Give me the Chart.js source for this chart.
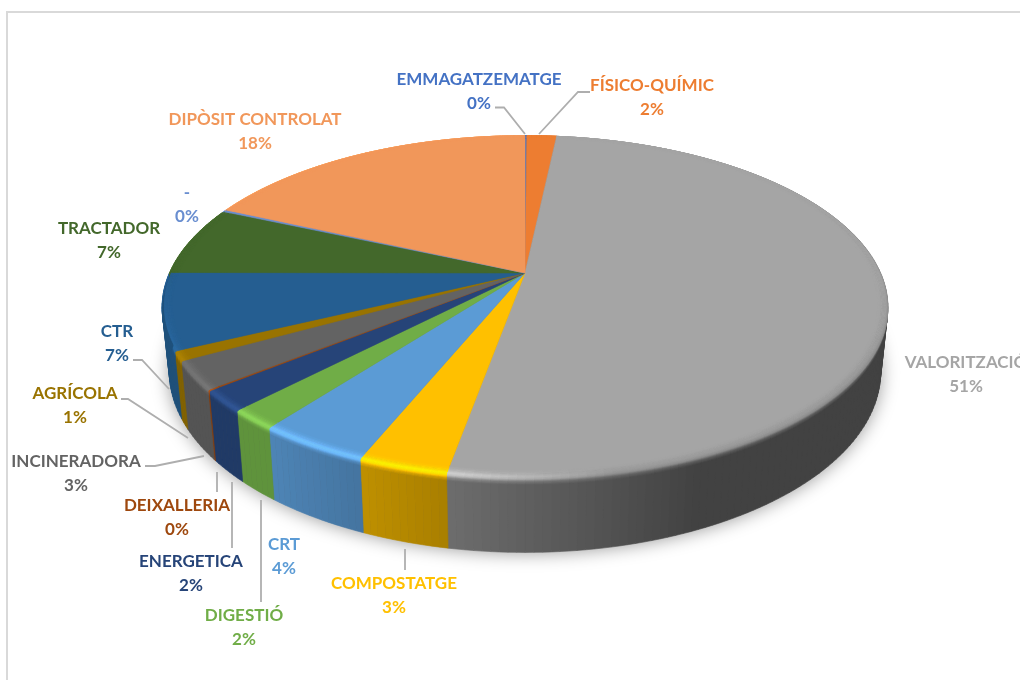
<!DOCTYPE html>
<html lang="ca">
<head>
    <meta charset="UTF-8">
    <title>Tractament de residus</title>
    <script src="https://cdn.jsdelivr.net/npm/chart.js"></script>
    <style>
        html, body {
            margin: 0;
            background: #fff;
            overflow: hidden;
        }
        .wrap {
            position: relative;
            width: 1020px;
            height: 680px;
            overflow: hidden;
        }
        .frame {
            position: absolute;
            left: 6px;
            top: 11px;
            width: 1100px;
            height: 800px;
            border: 2px solid #d9d9d9;
        }
        canvas {
            position: absolute;
            left: 0;
            top: 0;
        }
    </style>
</head>
<body>

<div class="wrap">
    <div class="frame"></div>
    <canvas id="myChart" width="1020" height="680"></canvas>
</div>

<script>
    const categories = ['EMMAGATZEMATGE', 'FÍSICO-QUÍMIC', 'VALORITZACIÓ', 'COMPOSTATGE', 'CRT', 'DIGESTIÓ', 'ENERGETICA',
        'DEIXALLERIA', 'INCINERADORA', 'AGRÍCOLA', 'CTR', 'TRACTADOR', '-', 'DIPÒSIT CONTROLAT'];
    const shares = [0.1, 1.6, 51.15, 3.35, 4.2, 1.85, 1.95, 0.1, 2.65, 0.9, 7.2, 6.55, 0.2, 18.2];
    const sliceColors = ['#4472C4', '#ED7D31', '#A5A5A5', '#FFC000', '#5B9BD5', '#70AD47', '#264478',
        '#9E480E', '#636363', '#997300', '#255E91', '#43682B', '#698ED0', '#F1975A'];

    // centre of each two line label, same order as categories
    const labelX = [479, 652, 966, 394, 284, 244, 191, 177, 76, 75, 117, 109, 187, 255];
    const labelY = [80, 86, 363, 584, 545, 616, 562, 506, 462, 394, 332, 229, 193, 120];

    const leaderLines = [
        [[495, 107.5], [504, 107.5], [525, 134]],
        [[590, 92], [578, 92], [539, 134]],
        [[133, 360], [142, 360], [169, 389]],
        [[121, 399], [128, 399], [188, 438]],
        [[145, 466], [155, 466], [204, 456]],
        [[217, 472], [217, 492]],
        [[232, 482], [232, 548]],
        [[261, 500], [261, 602]],
        [[405, 549], [405, 570]]
    ];

    // perspective of the disc, relative to the arc radius the library gives
    const PERSPECTIVE = 0.195;
    const STRETCH_X = 1.304;
    const STRETCH_Y = 0.604;
    const DEPTH = 0.232;
    const FAR_SCALE = 0.98;

    function project(arc, angle, r, z) {
        const X = r * Math.cos(angle);
        const Y = r * Math.sin(angle);
        const w = 1 - PERSPECTIVE * Y;
        const s = 1 - (1 - FAR_SCALE) * z;
        const R = arc.outerRadius;
        return [
            arc.x + R * STRETCH_X * s * X / w,
            arc.y + (R * STRETCH_Y * s * Y + R * DEPTH * z) / w
        ];
    }

    function shade(hex, f) {
        const n = parseInt(hex.slice(1), 16);
        const c = [n >> 16, (n >> 8) & 255, n & 255].map(v => Math.min(255, Math.round(v * f)));
        return `rgb(${c[0]},${c[1]},${c[2]})`;
    }

    function clamp(v) {
        return Math.max(0, Math.min(1, v));
    }

    function lerp(a, b, t) {
        return a + (b - a) * t;
    }

    // light on the side wall, bright at left, dark at right
    function wallLight(angle) {
        return lerp(0.85, 0.4, clamp((Math.cos(angle) + 0.6) / 1.0));
    }

    function edgeLight(angle) {
        const X = Math.cos(angle);
        if (X < -0.7) return lerp(1.1, 1.28, (X + 1) / 0.3);
        if (X < -0.15) return 1.28;
        return lerp(1.28, 0.95, clamp((X + 0.15) / 0.35));
    }

    // rim profile, from the wall up over the edge onto the top
    function rimProfile(angle) {
        const wall = wallLight(angle);
        const edge = edgeLight(angle);
        const fade = clamp(Math.sin(angle) / 0.5);
        const stops = [
            { r: 1, z: 0.09, f: wall },
            { r: 1, z: 0.045, f: lerp(wall, edge, 0.3) },
            { r: 1, z: 0.012, f: lerp(wall, edge, 0.85) },
            { r: 0.994, z: 0, f: lerp(1, edge, fade) },
            { r: 0.985, z: 0, f: lerp(1, lerp(edge, 1, 0.5), fade) },
            { r: 0.972, z: 0, f: 1 }
        ];
        const bands = [{ r: 1, z: 1, f: wall }];
        for (let i = 0; i < stops.length - 1; i++) {
            const p = stops[i];
            const q = stops[i + 1];
            for (let t = 0; t < 3; t++) {
                const k = t / 3;
                bands.push({ r: lerp(p.r, q.r, k), z: lerp(p.z, q.z, k), f: lerp(p.f, q.f, k) });
            }
        }
        bands.push(stops[stops.length - 1]);
        return bands;
    }

    function fillPoly(ctx, pts, color) {
        ctx.beginPath();
        pts.forEach((p, i) => i ? ctx.lineTo(p[0], p[1]) : ctx.moveTo(p[0], p[1]));
        ctx.closePath();
        ctx.fillStyle = color;
        ctx.strokeStyle = color;
        ctx.lineWidth = 0.6;
        ctx.fill();
        ctx.stroke();
    }

    function drawTop(ctx, arc, color) {
        const steps = Math.max(2, Math.ceil((arc.endAngle - arc.startAngle) / 0.01));
        const pts = [project(arc, 0, 0, 0)];
        for (let i = 0; i <= steps; i++) {
            pts.push(project(arc, lerp(arc.startAngle, arc.endAngle, i / steps), 0.98, 0));
        }
        fillPoly(ctx, pts, color);
    }

    // onTop false: the bands that hang on the wall, true: the bands on the top face
    function drawRim(ctx, arc, color, onTop) {
        const steps = Math.max(1, Math.ceil((arc.endAngle - arc.startAngle) / 0.02));
        for (let i = 0; i < steps; i++) {
            const a0 = lerp(arc.startAngle, arc.endAngle, i / steps);
            const a1 = lerp(arc.startAngle, arc.endAngle, (i + 1) / steps);
            const prof = rimProfile((a0 + a1) / 2);
            for (let b = 0; b < prof.length - 1; b++) {
                const p = prof[b];
                const q = prof[b + 1];
                if ((p.z === 0) !== onTop) continue;
                fillPoly(ctx, [
                    project(arc, a0, p.r, p.z),
                    project(arc, a1, p.r, p.z),
                    project(arc, a1, q.r, q.z),
                    project(arc, a0, q.r, q.z)
                ], shade(color, (p.f + q.f) / 2));
            }
        }
    }

    class Pie3DController extends Chart.PieController {
        draw() {
            const ctx = this.chart.ctx;
            const arcs = this.getMeta().data;
            const colors = this.getDataset().backgroundColor;

            // soft shadow under the whole disc
            ctx.save();
            ctx.shadowColor = 'rgba(0,0,0,0.4)';
            ctx.shadowBlur = 18;
            ctx.shadowOffsetY = 2;
            ctx.beginPath();
            for (let i = 0; i <= 180; i++) {
                const p = project(arcs[0], i / 180 * Math.PI * 2, 1, 0.98);
                i ? ctx.lineTo(p[0], p[1]) : ctx.moveTo(p[0], p[1]);
            }
            ctx.closePath();
            ctx.fillStyle = '#555';
            ctx.fill();
            ctx.restore();

            arcs.forEach((arc, i) => drawRim(ctx, arc, colors[i], false));
            arcs.forEach((arc, i) => drawTop(ctx, arc, colors[i]));
            arcs.forEach((arc, i) => drawRim(ctx, arc, colors[i], true));
        }
    }
    Pie3DController.id = 'pie3d';
    Pie3DController.defaults = Chart.PieController.defaults;
    Pie3DController.overrides = Chart.PieController.overrides;
    Chart.register(Pie3DController);

    const outsideLabels = {
        id: 'outsideLabels',
        afterDraw(chart) {
            const ctx = chart.ctx;
            const total = shares.reduce((a, b) => a + b, 0);

            ctx.save();
            ctx.strokeStyle = '#aeaeae';
            ctx.lineWidth = 1.8;
            leaderLines.forEach(line => {
                ctx.beginPath();
                line.forEach((p, i) => i ? ctx.lineTo(p[0], p[1]) : ctx.moveTo(p[0], p[1]));
                ctx.stroke();
            });

            ctx.font = 'bold 17px Lato';
            ctx.textAlign = 'center';
            ctx.textBaseline = 'middle';
            categories.forEach((name, i) => {
                ctx.fillStyle = sliceColors[i];
                ctx.fillText(name, labelX[i], labelY[i]);
                ctx.fillText(`${Math.round(shares[i] / total * 100)}%`, labelX[i], labelY[i] + 23.5);
            });
            ctx.restore();
        }
    };

    new Chart(document.getElementById('myChart').getContext('2d'), {
        type: 'pie3d',
        data: {
            labels: categories,
            datasets: [{
                data: shares,
                backgroundColor: sliceColors,
                borderWidth: 0
            }]
        },
        options: {
            responsive: false,
            animation: false,
            events: [],
            layout: { padding: { left: 30, right: 0, top: 0, bottom: 134 } },
            plugins: {
                legend: { display: false },
                tooltip: { enabled: false }
            }
        },
        plugins: [outsideLabels]
    });
</script>

</body>
</html>
